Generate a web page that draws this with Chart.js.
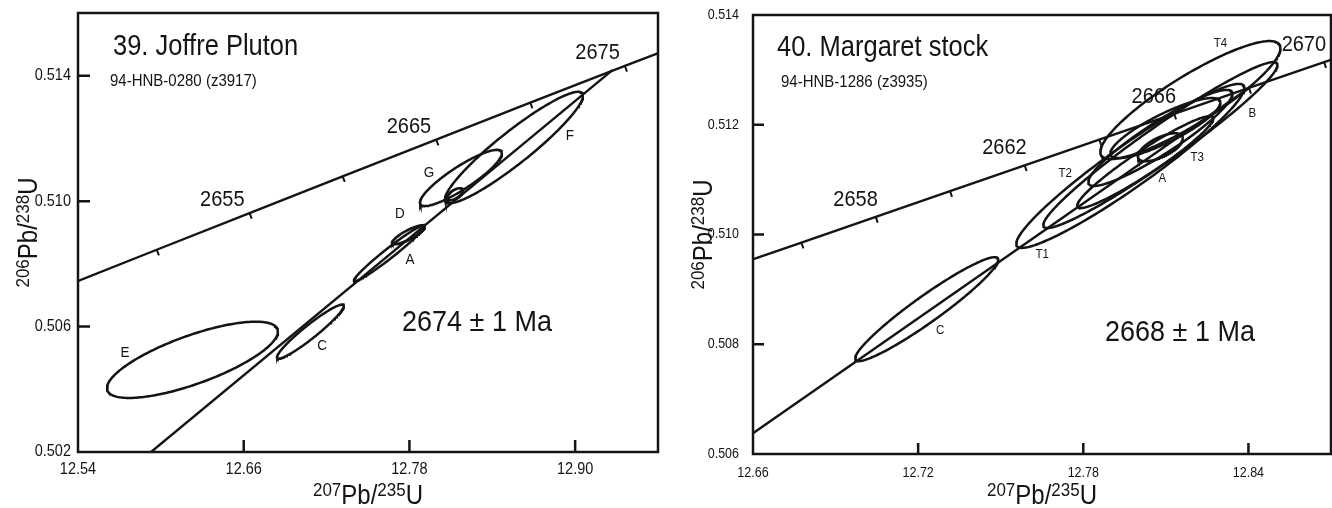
<!DOCTYPE html>
<html>
<head>
<meta charset="utf-8">
<script src="https://cdn.jsdelivr.net/npm/chart.js@4.4.1/dist/chart.umd.min.js"></script>
<style>
  html, body { margin: 0; padding: 0; background: #fff; }
  #wrap { position: relative; width: 1332px; height: 508px; overflow: hidden; }
  canvas { position: absolute; top: 0; }
  #joffre { left: 0; }
  #margaret { left: 666px; }
</style>
</head>
<body>
<div id="wrap">
  <canvas id="joffre" width="666" height="508"></canvas>
  <canvas id="margaret" width="666" height="508"></canvas>
</div>
<script>
// ---------- 39. Joffre Pluton, 94-HNB-0280 (z3917) ----------
const joffreXTicks = [12.54, 12.66, 12.78, 12.90];
const joffreYTicks = [0.502, 0.506, 0.510, 0.514];
// concordia points (age in Ma, 207Pb/235U, 206Pb/238U)
const joffreConcAges = [2645, 2650, 2655, 2660, 2665, 2670, 2675, 2680];
const joffreConcX = [12.5302, 12.5970, 12.6642, 12.7316, 12.7994, 12.8675, 12.9360, 13.0048];
const joffreConcY = [0.50728, 0.50845, 0.50962, 0.51079, 0.51196, 0.51314, 0.51431, 0.51548];
const joffreAgeLabels = [2655, 2665, 2675];
// discordia through the fractions to the upper intercept
const joffreDiscX = [12.5929, 12.927];
const joffreDiscY = [0.502, 0.51418];
// zircon fractions: centre, 2-sigma half-widths, error correlation
const joffreNames = ['E', 'C', 'A', 'D', 'G', '', 'F'];
const joffreCx  = [12.6229, 12.7083, 12.7655, 12.7793, 12.8173, 12.8129, 12.8557];
const joffreCy  = [0.50494, 0.50584, 0.50834, 0.50893, 0.51074, 0.51022, 0.51171];
const joffreSx  = [0.0619, 0.02425, 0.0257, 0.01195, 0.0297, 0.0058, 0.04996];
const joffreSy  = [0.001216, 0.000864, 0.000896, 0.000304, 0.000896, 0.000192, 0.001776];
const joffreRho = [0.74, 0.95, 0.975, 0.85, 0.88, 0.6, 0.93];

// ---------- 40. Margaret stock, 94-HNB-1286 (z3935) ----------
const margaretXTicks = [12.66, 12.72, 12.78, 12.84];
const margaretYTicks = [0.506, 0.508, 0.510, 0.512, 0.514];
const margaretConcAges = [2652, 2654, 2656, 2658, 2660, 2662, 2664, 2666, 2668, 2670, 2672];
const margaretConcX = [12.6239, 12.6507, 12.6776, 12.7046, 12.7316, 12.7587, 12.7858, 12.8130, 12.8402, 12.8675, 12.8949];
const margaretConcY = [0.50892, 0.50939, 0.50985, 0.51032, 0.51079, 0.51126, 0.51173, 0.51220, 0.51267, 0.51314, 0.51361];
const margaretAgeLabels = [2658, 2662, 2666, 2670];
const margaretDiscX = [12.66, 12.8402];
const margaretDiscY = [0.50638, 0.51267];
const margaretNames = ['C', 'T1', 'B', 'T4', 'T2', 'A', 'T3', ''];
const margaretCx  = [12.7231, 12.7971, 12.8080, 12.8189, 12.8080, 12.8025, 12.8080, 12.8098];
const margaretCy  = [0.50864, 0.51125, 0.51163, 0.51245, 0.51176, 0.51132, 0.51159, 0.51194];
const margaretSx  = [0.0260, 0.04145, 0.04254, 0.03272, 0.02618, 0.02472, 0.00818, 0.0200];
const margaretSy  = [0.000947, 0.001494, 0.001512, 0.001075, 0.000875, 0.000838, 0.000255, 0.000547];
const margaretRho = [0.95, 0.95, 0.965, 0.88, 0.92, 0.95, 0.65, 0.85];

// ---------- drawing helpers ----------
const INK = '#141414';
const FONT = '"Liberation Sans", Arial, Helvetica, sans-serif';
const STRETCH = 1.12;   // lettering is set slightly tall

function ellipseOutline(cx, cy, sx, sy, rho) {
  const pts = [];
  const k = Math.sqrt(1 - rho * rho);
  const n = 200;
  for (let i = 0; i <= n; i++) {
    const t = 2 * Math.PI * i / n;
    pts.push({ x: cx + sx * Math.cos(t), y: cy + sy * (rho * Math.cos(t) + k * Math.sin(t)) });
  }
  return pts;
}

function txt(ctx, s, x, y, size, align, base) {
  ctx.save();
  ctx.translate(x, y);
  ctx.scale(1, STRETCH);
  ctx.font = size + 'px ' + FONT;
  ctx.textAlign = align;
  ctx.textBaseline = base;
  ctx.fillStyle = INK;
  ctx.fillText(s, 0, 0);
  ctx.restore();
}

// isotope ratio title such as 207Pb/235U with raised mass numbers
function ratioTitle(ctx, cx, cy, massA, massB, rotated, look) {
  const parts = [[massA, true], ['Pb/', false], [massB, true], ['U', false]];
  ctx.save();
  ctx.translate(cx, cy);
  if (rotated) ctx.rotate(-Math.PI / 2);
  const widths = parts.map(([s, sup]) => {
    ctx.font = (sup ? look.supSize : look.mainSize) + 'px ' + FONT;
    return ctx.measureText(s).width;
  });
  let pos = -widths.reduce((a, b) => a + b, 0) / 2;
  parts.forEach(([s, sup], i) => {
    ctx.save();
    ctx.translate(pos, sup ? -look.supRise : 0);
    ctx.scale(1, STRETCH);
    ctx.font = (sup ? look.supSize : look.mainSize) + 'px ' + FONT;
    ctx.textAlign = 'left';
    ctx.textBaseline = 'alphabetic';
    ctx.fillStyle = INK;
    ctx.fillText(s, 0, 0);
    ctx.restore();
    pos += widths[i];
  });
  ctx.restore();
}

function overlay(p) {
  return {
    id: 'concordiaOverlay',
    afterDatasetsDraw(chart) {
      const ctx = chart.ctx, a = chart.chartArea;
      const xs = chart.scales.x, ys = chart.scales.y, L = p.look;
      ctx.save();
      ctx.strokeStyle = INK;
      ctx.lineWidth = 2.5;
      ctx.strokeRect(a.left, a.top, a.right - a.left, a.bottom - a.top);

      // axis ticks pointing into the plot
      ctx.beginPath();
      p.xTicks.forEach(v => {
        const px = xs.getPixelForValue(v);
        if (px > a.left + 2 && px < a.right - 2) { ctx.moveTo(px, a.bottom); ctx.lineTo(px, a.bottom - L.tickLen); }
      });
      p.yTicks.forEach(v => {
        const py = ys.getPixelForValue(v);
        if (py > a.top + 2 && py < a.bottom - 2) { ctx.moveTo(a.left, py); ctx.lineTo(a.left + L.tickLen, py); }
      });
      ctx.stroke();

      p.xTicks.forEach(v => txt(ctx, v.toFixed(2), xs.getPixelForValue(v), L.xLabelY, L.tickSize, 'center', 'middle'));
      p.yTicks.forEach(v => txt(ctx, v.toFixed(3), a.left - L.yLabelGap, ys.getPixelForValue(v), L.tickSize, 'right', 'middle'));

      ratioTitle(ctx, (a.left + a.right) / 2, L.xTitleY, '207', '235', false, L);
      ratioTitle(ctx, L.yTitleX, (a.top + a.bottom) / 2, '206', '238', true, L);

      // age marks along the concordia
      const pts = p.concX.map((x, i) => [xs.getPixelForValue(x), ys.getPixelForValue(p.concY[i])]);
      ctx.lineWidth = 2;
      ctx.beginPath();
      pts.forEach(([px, py], i) => {
        if (px < a.left + 3 || px > a.right - 3 || py < a.top || py > a.bottom) return;
        const [x0, y0] = pts[Math.max(0, i - 1)];
        const [x1, y1] = pts[Math.min(pts.length - 1, i + 1)];
        const len = Math.hypot(x1 - x0, y1 - y0);
        const nx = -(y1 - y0) / len, ny = (x1 - x0) / len;
        ctx.moveTo(px, py);
        ctx.lineTo(px + nx * L.concTick, py + ny * L.concTick);
      });
      ctx.stroke();
      p.ageLabels.forEach(age => {
        const i = p.concAges.indexOf(age);
        const [px, py] = pts[i];
        txt(ctx, String(age), px + L.ageDx, py + L.ageDy, L.ageSize, 'right', 'alphabetic');
      });

      // fraction letters
      p.names.forEach(nm => {
        if (!nm || !p.nameAt[nm]) return;
        const [vx, vy] = p.nameAt[nm];
        txt(ctx, nm, xs.getPixelForValue(vx), ys.getPixelForValue(vy), L.nameSize, 'center', 'middle');
      });

      txt(ctx, p.title, L.titleX, L.titleY, L.titleSize, 'left', 'alphabetic');
      txt(ctx, p.sample, L.sampleX, L.sampleY, L.sampleSize, 'left', 'alphabetic');
      txt(ctx, p.result, L.resultX, L.resultY, L.resultSize, 'left', 'alphabetic');
      ctx.restore();
    }
  };
}

function makePanel(canvasId, p) {
  const lineStyle = { showLine: true, borderColor: INK, borderWidth: 2.4, pointRadius: 0, pointHoverRadius: 0, fill: false, tension: 0 };
  const datasets = [
    { data: p.concAges.map((a, i) => ({ x: p.concX[i], y: p.concY[i] })), ...lineStyle, clip: 0 },
    { data: p.discX.map((x, i) => ({ x, y: p.discY[i] })), ...lineStyle, clip: 0 },
    ...p.cx.map((_, i) => ({ data: ellipseOutline(p.cx[i], p.cy[i], p.sx[i], p.sy[i], p.rho[i]), ...lineStyle, borderWidth: 2.5 }))
  ];
  const L = p.look;
  new Chart(document.getElementById(canvasId), {
    type: 'scatter',
    data: { datasets },
    options: {
      responsive: false,
      animation: false,
      devicePixelRatio: 1,
      events: [],
      layout: { padding: { top: L.padTop, right: L.padRight, left: 0, bottom: 0 } },
      plugins: { legend: { display: false }, tooltip: { enabled: false } },
      scales: {
        x: {
          type: 'linear', position: 'bottom', min: p.xMin, max: p.xMax,
          grid: { display: false, drawTicks: false }, border: { display: false },
          ticks: { display: false },
          afterBuildTicks: s => { s.ticks = p.xTicks.map(v => ({ value: v })); },
          afterFit: s => { s.height = L.xAxisHeight; }
        },
        y: {
          type: 'linear', position: 'left', min: p.yMin, max: p.yMax,
          grid: { display: false, drawTicks: false }, border: { display: false },
          ticks: { display: false },
          afterBuildTicks: s => { s.ticks = p.yTicks.map(v => ({ value: v })); },
          afterFit: s => { s.width = L.yAxisWidth; }
        }
      }
    },
    plugins: [overlay(p)]
  });
}

makePanel('joffre', {
  title: '39. Joffre Pluton', sample: '94-HNB-0280 (z3917)', result: '2674 \u00b1 1 Ma',
  xMin: 12.54, xMax: 12.96, yMin: 0.502, yMax: 0.516,
  xTicks: joffreXTicks, yTicks: joffreYTicks,
  concAges: joffreConcAges, concX: joffreConcX, concY: joffreConcY, ageLabels: joffreAgeLabels,
  discX: joffreDiscX, discY: joffreDiscY,
  names: joffreNames, cx: joffreCx, cy: joffreCy, sx: joffreSx, sy: joffreSy, rho: joffreRho,
  nameAt: { E: [12.574, 0.50517], C: [12.7167, 0.50539], A: [12.7804, 0.50814], D: [12.7731, 0.50958], G: [12.7941, 0.5109], F: [12.8962, 0.51208] },
  look: {
    padTop: 13, padRight: 8, yAxisWidth: 78, xAxisHeight: 56,
    tickLen: 12, tickSize: 14.5, xLabelY: 470, yLabelGap: 7,
    mainSize: 24, supSize: 17, supRise: 8, xTitleY: 504, yTitleX: 37,
    concTick: 6, ageSize: 20, ageDx: -5, ageDy: -7,
    nameSize: 13.5,
    titleX: 113, titleY: 55, titleSize: 25.5,
    sampleX: 110, sampleY: 86, sampleSize: 15,
    resultX: 402, resultY: 331, resultSize: 27
  }
});

makePanel('margaret', {
  title: '40. Margaret stock', sample: '94-HNB-1286 (z3935)', result: '2668 \u00b1 1 Ma',
  xMin: 12.66, xMax: 12.87, yMin: 0.506, yMax: 0.514,
  xTicks: margaretXTicks, yTicks: margaretYTicks,
  concAges: margaretConcAges, concX: margaretConcX, concY: margaretConcY, ageLabels: margaretAgeLabels,
  discX: margaretDiscX, discY: margaretDiscY,
  names: margaretNames, cx: margaretCx, cy: margaretCy, sx: margaretSx, sy: margaretSy, rho: margaretRho,
  nameAt: { T4: [12.8298, 0.51349], B: [12.8414, 0.51221], T3: [12.8214, 0.51141], T2: [12.7734, 0.51112], A: [12.8087, 0.51103], T1: [12.7651, 0.50963], C: [12.7280, 0.50826] },
  look: {
    padTop: 15, padRight: 1, yAxisWidth: 87, xAxisHeight: 54,
    tickLen: 11, tickSize: 12.5, xLabelY: 473, yLabelGap: 14,
    mainSize: 24, supSize: 17, supRise: 8, xTitleY: 504, yTitleX: 46,
    concTick: 6, ageSize: 20, ageDx: 2, ageDy: -11,
    nameSize: 11.5,
    titleX: 111, titleY: 56, titleSize: 25.5,
    sampleX: 115, sampleY: 87, sampleSize: 15,
    resultX: 439, resultY: 341, resultSize: 27
  }
});
</script>
</body>
</html>
